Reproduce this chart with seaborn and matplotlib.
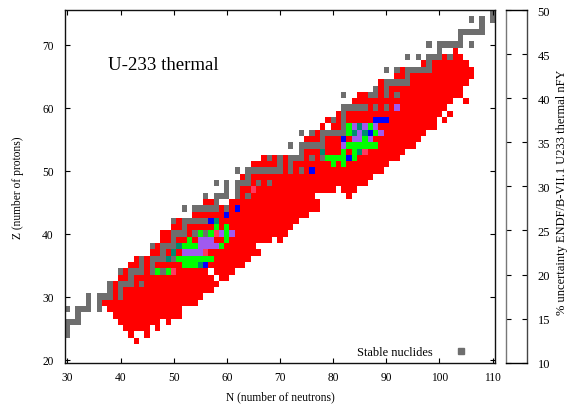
# script plots the U-233 thermal fission yield uncertainty chart

import numpy as np
import pandas as pd
import matplotlib
matplotlib.use('Agg')
import matplotlib.pyplot as plt
from matplotlib.colors import ListedColormap
from matplotlib.lines import Line2D
import seaborn as sns

# every list below holds runs of cells: (Z, first N, last N)
under_10 = [(23,43,43),(24,42,42),(24,45,45),(25,41,45),(25,47,47),(26,40,47),(26,49,49),
    (27,39,51),(28,38,51),(29,37,54),(30,37,55),(31,38,57),(32,39,58),(33,40,57),(33,59,60),
    (34,41,56),(34,58,61),(35,42,63),(36,43,64),(37,46,66),(38,47,65),(39,48,68),(39,70,70),
    (40,48,71),(41,50,72),(42,51,73),(43,54,75),(44,54,77),(45,56,57),(45,61,77),(46,63,76),
    (46,83,83),(47,63,80),(47,82,84),(48,63,86),(49,63,87),(50,64,89),(51,65,90),(52,67,92),
    (53,75,93),(54,75,95),(55,75,96),(56,76,97),(57,78,78),(57,80,99),(58,79,99),(58,101,101),
    (59,81,100),(59,102,102),(60,82,101),(61,84,102),(61,105,105),(62,85,104),(63,88,104),
    (64,89,105),(65,92,106),(66,93,106),(67,97,105),(68,98,104),(69,103,103)]
green_cells = [(34,47,47),(34,49,49),(35,52,54),(36,51,57),(38,52,54),(38,59,59),(39,53,53),
    (39,60,60),(40,55,55),(40,57,57),(40,60,60),(41,58,58),(41,60,60),(51,80,80),(51,82,82),
    (52,79,82),(52,84,84),(53,82,82),(53,84,84),(54,83,88),(55,86,86),(56,83,83),(56,88,88),
    (57,83,83),(57,87,87)]
teal_cells = [(35,55,55),(36,49,49),(37,50,50),(38,51,51),(42,58,58),(53,78,78),(53,85,85),
    (56,84,84),(56,86,86),(57,85,85)]
blue_cells = [(35,56,56),(42,57,57),(43,60,60),(44,62,62),(50,76,76),(52,83,83),(55,82,82),
    (56,87,87),(58,88,90)]
purple_cells = [(37,52,55),(38,55,58),(39,55,57),(40,59,59),(40,61,61),(54,82,82),(55,84,85),
    (55,87,87),(56,85,85),(56,89,89),(57,84,84),(57,86,86),(57,88,88),(60,92,92)]
pink_cells = [(34,50,50),(37,56,56),(40,58,58),(47,65,65),(53,86,86)]
stable_cells = [(24,30,30),(25,30,30),(26,30,32),(27,32,32),(28,30,30),(28,32,34),(28,36,36),
    (29,34,34),(29,36,36),(30,34,34),(30,36,38),(30,40,40),(31,38,38),(31,40,40),(32,38,38),
    (32,40,42),(32,44,44),(33,42,42),(34,40,40),(34,42,44),(34,46,46),(34,48,48),(35,44,44),
    (35,46,46),(36,44,44),(36,46,48),(36,50,50),(37,48,48),(38,46,46),(38,48,50),(39,50,50),
    (40,50,52),(40,54,54),(40,56,56),(41,52,52),(42,50,50),(42,52,56),(44,52,52),(44,54,58),
    (44,60,60),(45,58,58),(46,56,56),(46,58,60),(46,62,62),(46,64,64),(47,60,60),(47,62,62),
    (48,58,58),(48,60,60),(48,62,64),(48,66,66),(48,68,68),(49,64,64),(50,62,62),(50,64,70),
    (50,72,72),(50,74,74),(51,70,70),(51,72,72),(52,68,68),(52,70,70),(52,72,74),(52,76,76),
    (52,78,78),(53,74,74),(54,72,72),(54,74,78),(55,78,78),(56,74,74),(56,76,76),(56,78,82),
    (57,82,82),(58,80,80),(58,82,82),(59,82,82),(60,82,86),(60,88,88),(60,90,90),(62,82,82),
    (62,87,88),(62,90,90),(62,92,92),(63,88,88),(63,90,90),(64,90,94),(65,94,94),(66,90,90),
    (66,92,92),(66,94,98),(67,98,98),(68,94,94),(68,96,96),(68,98,100),(68,102,102),(69,100,100),
    (70,98,98),(70,100,104),(70,106,106),(71,104,104),(72,104,108),(73,108,108),(74,106,106),
    (74,108,108),(74,110,110),(75,110,110)]

neutrons = np.arange(30, 111)
protons = np.arange(75, 19, -1)
x_ticks = [30, 40, 50, 60, 70, 80, 90, 100, 110]
y_ticks = [20, 30, 40, 50, 60, 70]
cb_ticks = [10, 15, 20, 25, 30, 35, 40, 45, 50]

layers = [under_10, green_cells, teal_cells, blue_cells, purple_cells, pink_cells, stable_cells]
colors = ['#ff0000', '#00ff00', '#008b72', '#0000ff', '#a05aef', '#ff3860', '#6e6e6e']

plt.rcParams['font.family'] = ['Liberation Serif', 'DejaVu Serif']
plt.rcParams['font.size'] = 8.3
plt.rcParams['axes.linewidth'] = 1.0

grid = pd.DataFrame(np.nan, index=protons, columns=neutrons)
for code, layer in enumerate(layers):
    for z, first, last in layer:
        grid.loc[z, first:last] = code

W, H = 568, 406
fig = plt.figure(figsize=(W/100, H/100), dpi=100)
ax = fig.add_axes([64.7/W, 1-363.7/H, 430.6/W, 352.7/H])
sns.heatmap(grid, ax=ax, cmap=ListedColormap(colors), vmin=-0.5, vmax=6.5, cbar=False,
            xticklabels=False, yticklabels=False)

for spine in ax.spines.values():
    spine.set_visible(True)
    spine.set_color('#111111')
ax.set_xticks([n-30+0.5 for n in x_ticks], labels=[str(n) for n in x_ticks])
ax.set_yticks([75-z+0.5 for z in y_ticks], labels=[str(z) for z in y_ticks], rotation=0)
ax.tick_params(direction='in', top=True, right=True, length=3.5, width=0.8, pad=6)
ax.tick_params(axis='y', pad=8)
ax.set_xlabel('N (number of neutrons)', labelpad=5)
ax.set_ylabel('Z (number of protons)', labelpad=13)
ax.text(8.1, 9.4, 'U-233 thermal', fontsize=13.6, va='baseline')

key = Line2D([], [], linestyle='none', marker='s', markersize=5, color='#6e6e6e',
             label='Stable nuclides')
ax.legend(handles=[key], loc='lower right', markerfirst=False, frameon=False,
          bbox_to_anchor=(0.974, -0.019), handletextpad=1.26, fontsize=8.9)

# the colour scale of the original came out blank, only frame and ticks are left
cax = fig.add_axes([506/W, 1-363.7/H, 21.3/W, 352.7/H])
cax.set_ylim(10, 50)
cax.set_xticks([])
cax.set_yticks(cb_ticks, labels=[str(t) for t in cb_ticks])
cax.yaxis.tick_right()
cax.spines['left'].set_color('#777777')
cax.spines['right'].set_color('#444444')
cax.tick_params(axis='y', direction='in', left=True, right=True, length=3.5, width=0.8,
                pad=7.5, labelsize=9)
cax.yaxis.set_label_position('right')
cax.set_ylabel('% uncertainty ENDF/B-VII.1 U233 thermal nFY', fontsize=9)
cax.yaxis.set_label_coords(2.33, 0.485)

fig.savefig('out.png', dpi=100)
